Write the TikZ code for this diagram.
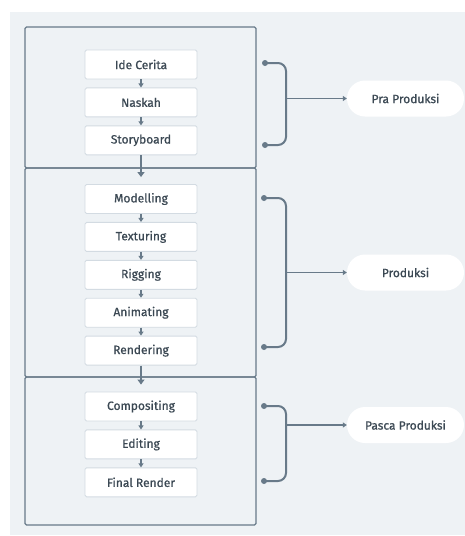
\documentclass[tikz,border=0pt]{standalone}
\usepackage{fontspec}
\setmainfont{Fira Sans}
\newfontfamily\labelfont[FakeBold=0.7]{Fira Sans}
\usepackage{tikz}
\usetikzlibrary{positioning, arrows.meta}
\usepackage{xcolor}
\definecolor{panel}{HTML}{EEF2F5}
\definecolor{wire}{HTML}{687A89}
\definecolor{boxline}{HTML}{D3DBE2}
\definecolor{ink}{HTML}{3B4853}

\begin{document}
\begin{tikzpicture}[x=1pt, y=-1pt,
	stage/.style={draw=boxline, line width=0.9pt, fill=white, rounded corners=1.5pt, minimum width=112pt, minimum height=29pt, inner sep=0pt, text=ink, font=\labelfont\fontsize{12}{14}\selectfont},
	phase/.style={fill=white, rounded corners=18pt, minimum width=117pt, minimum height=36pt, inner sep=0pt, text=ink, font=\labelfont\fontsize{12}{14}\selectfont},
	link/.style={wire, line width=1.2pt, -{Triangle[width=5pt, length=4pt]}},
	pass/.style={wire, line width=1.6pt, -{Triangle[width=7pt, length=5pt]}, shorten >=7pt},
	frame/.style={wire, line width=1.4pt, rounded corners=1.5pt},
	brace/.style={wire, line width=2pt, rounded corners=8pt}]
	\useasboundingbox (0,0) rectangle (465,536);
	\fill [panel] (10,12) rectangle (465,535);

	% frames
	\draw [frame] (25,27) rectangle (256,168);
	\draw [frame] (25,168) rectangle (256,377);
	\draw [frame] (25,377) rectangle (256,525);

	% Pra Produksi
	\node [stage] (ide) at (141,64.5) {Ide Cerita};
	\node [stage, below=8pt of ide] (naskah) {Naskah};
	\node [stage, below=8pt of naskah] (story) {Storyboard};

	% Produksi
	\node [stage] (model) at (141,199) {Modelling};
	\node [stage, below=8pt of model] (texture) {Texturing};
	\node [stage, below=8pt of texture] (rig) {Rigging};
	\node [stage, below=8pt of rig] (anim) {Animating};
	\node [stage, below=8pt of anim] (render) {Rendering};

	% Pasca Produksi
	\node [stage] (comp) at (141,406.5) {Compositing};
	\node [stage, below=8pt of comp] (edit) {Editing};
	\node [stage, below=8pt of edit] (final) {Final Render};

	\draw [link] (ide) -- (naskah);
	\draw [link] (naskah) -- (story);
	\draw [link] (model) -- (texture);
	\draw [link] (texture) -- (rig);
	\draw [link] (rig) -- (anim);
	\draw [link] (anim) -- (render);
	\draw [link] (comp) -- (edit);
	\draw [link] (edit) -- (final);

	\draw [pass] (story) -- (model);
	\draw [pass] (render) -- (comp);

	\node [phase] (pra) at (405.5,98.5) {Pra Produksi};
	\node [phase] (prod) at (405.5,272.5) {Produksi};
	\node [phase] (pasca) at (405.5,425) {Pasca Produksi};

	% brackets
	\coordinate (pra top) at (265,63);
	\coordinate (pra bot) at (265,145);
	\coordinate (pra mid) at (286,98.5);
	\draw [brace] (pra top) -- (286,63) -- (286,145) -- (pra bot);
	\draw [link] (pra mid) -- (pra);

	\coordinate (prod top) at (264,198);
	\coordinate (prod bot) at (264,347);
	\coordinate (prod mid) at (286,272.5);
	\draw [brace] (prod top) -- (286,198) -- (286,347) -- (prod bot);
	\draw [link] (prod mid) -- (prod);

	\coordinate (pasca top) at (264,406);
	\coordinate (pasca bot) at (264,481);
	\coordinate (pasca mid) at (286,425);
	\draw [brace] (pasca top) -- (286,406) -- (286,481) -- (pasca bot);
	\draw [link] (pasca mid) -- (pasca);

	\foreach \p in {pra top, pra bot, prod top, prod bot, pasca top, pasca bot}
		\fill [wire] (\p) circle [radius=3pt];
\end{tikzpicture}
\end{document}
